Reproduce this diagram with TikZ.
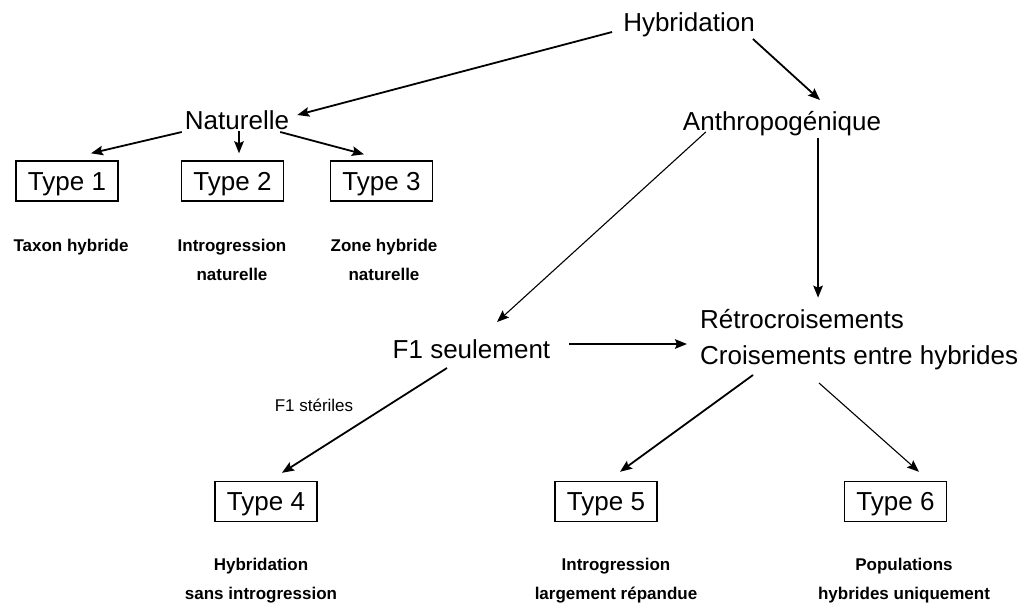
\documentclass[tikz,border=0pt]{standalone}
\usepackage{fontspec}
\setmainfont{Liberation Sans}
\usepackage{tikz}
\usetikzlibrary{positioning, shapes, arrows.meta}

\begin{document}
\begin{tikzpicture}[x=1pt, y=-1pt,
    lbl/.style={font=\fontsize{26}{30}\selectfont, inner sep=0pt, anchor=base},
    typebox/.style={draw, line width=1.4pt, minimum width=102pt, minimum height=40pt, inner sep=0pt, font=\fontsize{26}{30}\selectfont, text height=18.6pt, text depth=0pt},
    desc/.style={font=\bfseries\fontsize{17}{29}\selectfont, align=center, inner sep=0pt, anchor=base},
    arr/.style={-{Stealth[length=12pt, width=9.5pt, inset=2pt]}, line width=1.8pt},
    thinarr/.style={arr, line width=1.1pt}]
    \useasboundingbox (0,0) rectangle (1022,603);

    % Main branches
    \node[lbl] (hyb) at (689,31) {Hybridation};
    \node[lbl] (nat) at (237,129) {Naturelle};
    \node[lbl] (anth) at (782,130) {Anthropogénique};

    \draw[arr] ([shift={(-11,1)}]hyb.base west) -- ([shift={(8,-14)}]nat.base east);
    \draw[arr] ([shift={(-2,8)}]hyb.base east) -- ([shift={(38,-30)}]anth.base);

    % Natural types
    \node[typebox] (type1) at (67,181) {Type 1};
    \node[typebox] (type2) at (232.5,181) {Type 2};
    \node[typebox] (type3) at (381.5,181) {Type 3};

    \node[desc] (desc1) at (71,251) {Taxon hybride};
    \node[desc] (desc2) at (232,280) {Introgression\\naturelle};
    \node[desc] (desc3) at (384,280) {Zone hybride\\naturelle};

    \draw[arr] ([shift={(-3,3)}]nat.base west) -- ([shift={(24,-7)}]type1.north);
    \draw[arr] ([shift={(2,2)}]nat.base) -- ([shift={(6.5,-7)}]type2.north);
    \draw[arr] ([shift={(-9,3)}]nat.base east) -- ([shift={(-17.5,-6)}]type3.north);

    % Anthropogenic side
    \node[lbl] (f1) at (471.5,358) {F1 seulement};
    \node[lbl, anchor=base west] (retro) at (700,328) {Rétrocroisements};
    \node[lbl, anchor=base west] (crois) at (700,364) {Croisements entre hybrides};

    \draw[thinarr] ([shift={(23,2)}]anth.base west) -- ([shift={(25.5,-36)}]f1.base);
    \draw[arr] ([shift={(36,8)}]anth.base) -- ([shift={(16,-11)}]retro.north);
    \draw[arr] ([shift={(19,-14)}]f1.base east) -- ([shift={(-13,-20)}]crois.base west);

    \node[typebox] (type4) at (266,501.5) {Type 4};
    \node[typebox] (type5) at (606,501.5) {Type 5};
    \node[typebox] (type6) at (895.5,501.5) {Type 6};

    \node[font=\fontsize{17}{20}\selectfont, inner sep=0pt] (sterile) at (314,405) {F1 stériles};

    \draw[arr] ([shift={(-24.5,10)}]f1.base) -- ([shift={(16,-8)}]type4.north);
    \draw[arr] ([shift={(53,11)}]crois.base west) -- ([shift={(14,-9)}]type5.north);
    \draw[thinarr] ([shift={(119,19)}]crois.base west) -- ([shift={(23.5,-9)}]type6.north);

    \node[desc] (desc4) at (261,599) {Hybridation\\sans introgression};
    \node[desc] (desc5) at (616,599) {Introgression\\largement répandue};
    \node[desc] (desc6) at (904,599) {Populations\\hybrides uniquement};
\end{tikzpicture}
\end{document}
